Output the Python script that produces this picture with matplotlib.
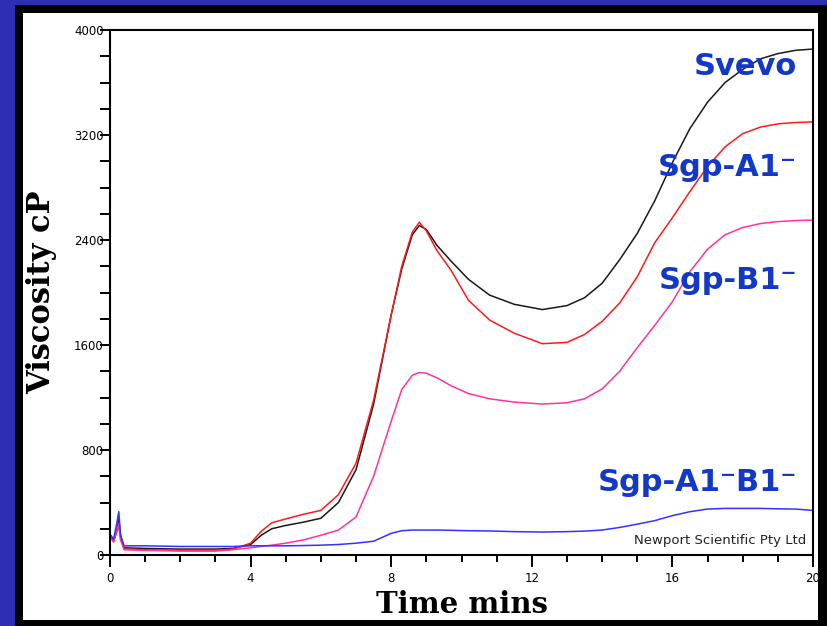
import matplotlib
matplotlib.use("Agg")
import matplotlib.pyplot as plt
from matplotlib.patches import Rectangle
from matplotlib.ticker import MultipleLocator

# RVA viscosity traces (time in minutes, viscosity in cP)
time_min = [0, 0.1, 0.2, 0.25, 0.3, 0.4, 1, 2, 3, 3.5, 4, 4.3, 4.6, 5, 5.5, 6, 6.5, 7, 7.5, 8,
            8.3, 8.6, 8.8, 9.0, 9.3, 9.7, 10.2, 10.8, 11.5, 12.3, 13, 13.5, 14, 14.5, 15, 15.5,
            16, 16.5, 17, 17.5, 18, 18.5, 19, 19.5, 20]

svevo = [150, 110, 200, 270, 150, 55, 50, 45, 45, 50, 80, 150, 200, 225, 250, 280, 400, 650, 1150, 1830,
         2180, 2440, 2510, 2480, 2360, 2240, 2100, 1980, 1910, 1870, 1900, 1960, 2070, 2250, 2450, 2700,
         2990, 3250, 3450, 3600, 3700, 3780, 3820, 3845, 3855]

sgp_a1 = [140, 100, 180, 230, 120, 45, 40, 35, 35, 45, 90, 180, 245, 275, 310, 340, 460, 700, 1180, 1830,
          2200, 2460, 2535, 2470, 2320, 2170, 1940, 1790, 1690, 1610, 1620, 1680, 1780, 1920, 2120, 2380,
          2570, 2770, 2960, 3110, 3210, 3260, 3285, 3295, 3300]

sgp_b1 = [140, 100, 190, 240, 120, 40, 35, 30, 30, 40, 55, 65, 75, 90, 115, 150, 190, 290, 600, 1020,
          1260, 1370, 1390, 1385, 1350, 1290, 1230, 1190, 1165, 1150, 1160, 1190, 1265, 1400, 1580, 1750,
          1930, 2160, 2330, 2440, 2495, 2525, 2540, 2548, 2552]

sgp_a1b1 = [160, 120, 250, 330, 150, 70, 70, 65, 65, 65, 70, 70, 70, 70, 72, 75, 80, 90, 105, 165,
            185, 190, 190, 190, 190, 188, 185, 183, 178, 175, 178, 182, 190, 210, 235, 262,
            300, 330, 350, 355, 355, 355, 352, 350, 340]

series_names = ["Svevo", "Sgp-A1\u207b", "Sgp-B1\u207b", "Sgp-A1\u207bB1\u207b"]
series_values = [svevo, sgp_a1, sgp_b1, sgp_a1b1]
series_colors = ["#1a1a1a", "#ff1a1a", "#ff3399", "#3333ff"]
label_y = [3720, 2950, 2095, 550]

W, H = 827, 626
fig = plt.figure(figsize=(W / 100, H / 100), dpi=100, facecolor="#2e2eb4")

# black frame and white panel behind the plot
fig.patches.append(Rectangle((15 / W, 0), 1 - 15 / W, 1 - 5 / H, transform=fig.transFigure,
                             facecolor="black", edgecolor="none", zorder=-2))
fig.patches.append(Rectangle((23 / W, 6 / H), (818 - 23) / W, (613 - 6) / H, transform=fig.transFigure,
                             facecolor="white", edgecolor="none", zorder=-1))

ax = fig.add_axes([110 / W, 1 - 555 / H, (813 - 110) / W, (555 - 30) / H])
ax.set_facecolor("none")

for vals, col in zip(series_values, series_colors):
    ax.plot(time_min, vals, color=col, lw=1.1)

ax.set_xlim(0, 20)
ax.set_ylim(0, 4000)
ax.xaxis.set_major_locator(MultipleLocator(4))
ax.xaxis.set_minor_locator(MultipleLocator(1))
ax.yaxis.set_major_locator(MultipleLocator(800))
ax.yaxis.set_minor_locator(MultipleLocator(200))

ax.tick_params(axis="y", which="both", direction="out", length=7, width=1.4,
               labelsize=8.5, pad=-2.5)
ax.tick_params(axis="x", which="major", direction="out", length=8.5, width=1.4,
               labelsize=8.5, pad=3.5)
ax.tick_params(axis="x", which="minor", direction="out", length=5, width=1.4)
for sp in ax.spines.values():
    sp.set_linewidth(1.5)

ax.set_xlabel("Time mins", family="DejaVu Serif", fontweight="bold", fontsize=21, labelpad=4)
ax.set_ylabel("Viscosity cP", family="DejaVu Serif", fontweight="bold", fontsize=22, labelpad=12)

for name, yv in zip(series_names, label_y):
    ax.text(19.55, yv, name, ha="right", va="center", color="#1238c8",
            fontsize=22, fontweight="bold", family="DejaVu Sans")

ax.text(19.8, 60, "Newport Scientific Pty Ltd", ha="right", va="bottom", fontsize=9.5,
        color="#222222")

# right black border clips the "20" like in the original scan
fig.add_artist(Rectangle((818 / W, 0), 1 - 818 / W, 1 - 5 / H, transform=fig.transFigure,
                         facecolor="black", edgecolor="none", zorder=10))

fig.savefig("out.png", dpi=100, facecolor=fig.get_facecolor())
